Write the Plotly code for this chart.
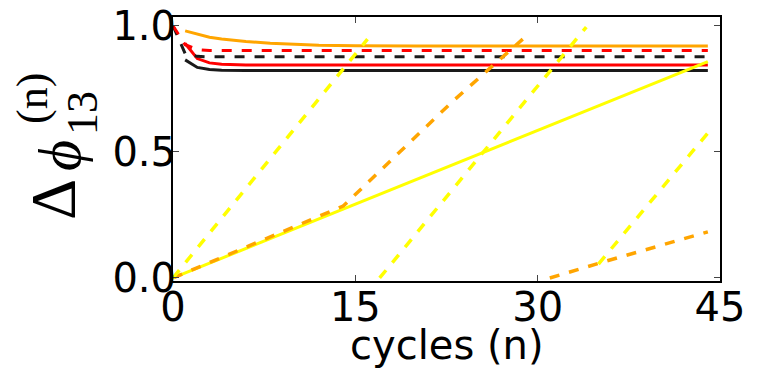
import plotly.graph_objects as go

# ---- data ----
n_orange = [1, 2, 3, 4, 5, 6, 8, 10, 12, 15, 20, 44]
orange_solid = [0.98, 0.966, 0.955, 0.948, 0.942, 0.938, 0.931, 0.926, 0.923, 0.921, 0.920, 0.920]

n_red_dash = [0, 1, 2, 3, 44]
red_dash = [1.0, 0.925, 0.906, 0.902, 0.902]

n_black_dash = [0, 1, 2, 3, 44]
black_dash = [1.0, 0.89, 0.879, 0.877, 0.877]

n_red_solid = [1, 2, 3, 4, 6, 44]
red_solid = [0.93, 0.87, 0.853, 0.848, 0.845, 0.845]

n_black_solid = [1, 2, 3, 4, 6, 44]
black_solid = [0.865, 0.835, 0.827, 0.824, 0.823, 0.823]

n_yellow_solid = [0, 22, 44]
yellow_solid = [0.0, 0.43, 0.858]

# wrapped (mod 1) series, None separates branches
n_orange_dash = [0, 14, 23, 29.3, None, 31, 35, 44]
orange_dash = [0.0, 0.285, 0.70, 0.97, None, 0.0, 0.058, 0.183]

n_yellow_dash = [0, 16, None, 17, 34, None, 35, 44]
yellow_dash = [0.0, 0.947, None, 0.0, 0.995, None, 0.055, 0.575]

x_ticks = [0, 15, 30, 45]
y_ticks = [0.0, 0.5, 1.0]
y_tick_labels = ["0.0", "0.5", "1.0"]

ORANGE = "#FFA500"
YELLOW = "#FFFF00"
RED = "#FF0000"
BLACK = "#1a1a1a"
DASH = "10px,10px"

fig = go.Figure()

def add(x, y, color, dash=None, width=3):
    fig.add_trace(go.Scatter(
        x=x, y=y, mode="lines", connectgaps=False,
        line=dict(color=color, width=width, dash=dash if dash else "solid"),
        showlegend=False, hoverinfo="skip"))

add(n_black_solid, black_solid, BLACK)
add(n_red_solid, red_solid, RED)
add(n_black_dash, black_dash, BLACK, DASH)
add(n_red_dash, red_dash, RED, DASH)
add(n_orange, orange_solid, ORANGE)
add(n_yellow_solid, yellow_solid, YELLOW)
add(n_orange_dash, orange_dash, ORANGE, DASH, 3.5)
add(n_yellow_dash, yellow_dash, YELLOW, DASH, 3.5)

axis_common = dict(
    showline=True, linecolor="black", linewidth=2, mirror="ticks",
    ticks="inside", ticklen=6, tickwidth=1, tickcolor="#444",
    showgrid=False, zeroline=False, automargin=False,
    tickfont=dict(family="DejaVu Sans", size=40, color="black"),
)

fig.update_layout(
    width=763, height=371,
    margin=dict(l=173, r=43, t=17, b=90),
    plot_bgcolor="white", paper_bgcolor="white",
    xaxis=dict(range=[0, 45], tickvals=x_ticks, ticktext=[str(v) for v in x_ticks],
               ticklabelstandoff=-10, **axis_common),
    yaxis=dict(range=[-0.012, 1.035], tickvals=y_ticks, ticktext=y_tick_labels,
               ticklabelstandoff=-13, **axis_common),
)

PLOT_L, PLOT_T, PLOT_B, PLOT_W = 173, 17, 281, 547
PLOT_H = PLOT_B - PLOT_T

def ann(text, px, py, size, angle=-90, family="Liberation Serif"):
    fig.add_annotation(
        text=text, xref="paper", yref="paper",
        x=(px - PLOT_L) / PLOT_W, y=(PLOT_B - py) / PLOT_H,
        xanchor="center", yanchor="middle", showarrow=False,
        textangle=angle, font=dict(family=family, size=size, color="black"))

# y-axis title  Δϕ_13^(n)
ann("Δ", 54, 200, 64)
ann("<i>ϕ</i>", 60, 156, 60)
ann("13", 82, 113, 44)
ann("(n)", 33, 99, 44)

# x-axis title
ann("cycles (n)", 447, 345, 40, angle=0, family="DejaVu Sans")

fig.write_html(
    "out.html",
    config={"displayModeBar": False},
    post_script="document.body.style.margin='0';document.body.style.overflow='hidden';",
)
